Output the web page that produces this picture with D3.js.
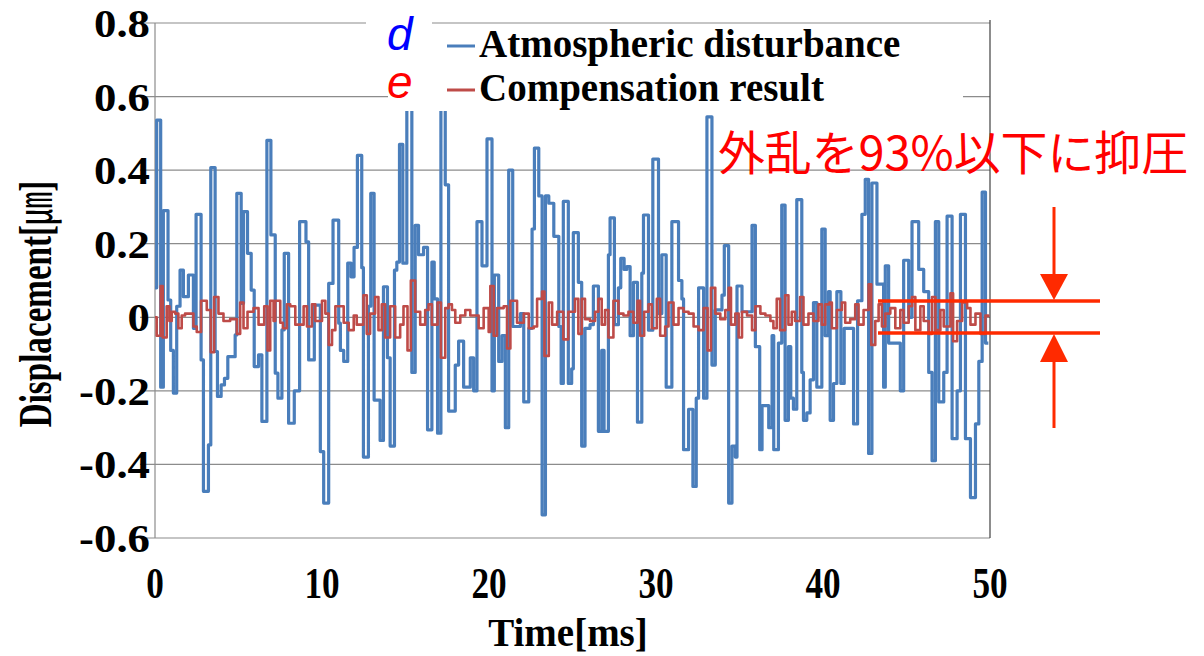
<!DOCTYPE html>
<html>
<head>
<meta charset="utf-8">
<script src="https://cdn.jsdelivr.net/npm/d3@7"></script>
<style>
  body { margin: 0; background: #fff; }
  svg { display: block; }
</style>
</head>
<body>
<div id="chart"></div>
<script>
// step start times (ms) and held values (um) of the disturbance d
var dTime = [0.0,0.1,0.34,0.5,0.78,0.94,1.1,1.3,1.5,1.7,2.0,2.3,2.46,2.76,2.9,3.2,3.34,3.6,3.74,3.96,
  4.16,4.36,4.8,4.9,5.16,5.3,5.54,5.76,5.94,6.2,6.4,6.7,6.94,7.2,7.36,7.6,7.74,8.0,8.34,8.66,
  9.04,9.2,9.54,9.9,10.1,10.4,10.66,11.0,11.1,11.3,11.54,11.74,11.92,12.12,12.38,12.48,12.78,12.92,13.12,13.48,
  13.68,13.92,14.08,14.34,14.48,14.64,14.84,15.08,15.38,15.58,15.78,16.08,16.32,16.58,16.72,16.92,17.12,17.38,17.58,17.98,
  18.18,18.48,18.88,19.08,19.28,19.58,19.88,20.18,20.32,20.58,20.78,20.98,21.18,21.42,21.88,22.08,22.38,22.58,22.72,22.98,
  23.18,23.38,23.58,23.88,24.18,24.32,24.45,24.75,24.95,25.05,25.35,25.55,25.75,26.05,26.25,26.55,26.75,26.89,27.15,27.25,
  27.51,27.75,27.89,28.09,28.25,28.45,28.65,28.89,29.15,29.25,29.55,29.81,30.15,30.35,30.61,30.95,31.35,31.55,31.65,31.95,
  32.21,32.41,32.55,32.85,33.05,33.35,33.55,33.95,34.09,34.35,34.55,34.75,34.85,35.15,35.75,35.95,36.21,36.35,36.75,36.95,
  37.05,37.33,37.53,37.73,37.93,38.07,38.23,38.43,38.73,38.83,39.03,39.23,39.43,39.63,39.93,40.13,40.33,40.43,40.63,40.83,
  41.07,41.27,41.83,42.07,42.33,42.53,42.73,42.93,43.23,43.63,43.73,43.93,44.63,44.83,45.13,45.33,45.73,46.03,46.33,46.53,
  46.73,46.93,47.23,47.43,47.73,48.03,48.23,48.53,48.83,49.13,49.33,49.53,49.73,49.9];
var dValue = [0.08,0.536,-0.19,0.29,0.047,-0.09,-0.206,0.03,0.128,0.056,0.115,-0.03,0.28,-0.116,-0.473,-0.347,0.407,-0.093,-0.215,-0.184,
  -0.166,-0.107,-0.048,0.337,0.038,0.287,0.174,0.074,-0.134,-0.102,-0.283,0.481,0.224,-0.152,-0.22,-0.034,0.174,-0.288,-0.2,0.26,
  0.205,-0.116,0.033,-0.365,-0.505,0.092,0.264,-0.016,-0.09,-0.12,0.147,0.11,0.19,0.44,0.135,-0.38,0.03,0.337,-0.225,-0.335,
  0.083,-0.11,-0.35,0.128,0.15,0.47,0.147,0.62,-0.15,0.25,0.17,0.19,-0.306,0.15,0.05,-0.315,0.62,0.36,-0.255,-0.13,
  -0.065,-0.19,-0.11,-0.2,0.26,0.14,0.485,-0.2,0.115,-0.12,-0.05,-0.3,0.4,-0.025,0.01,-0.23,-0.03,0.24,0.46,0.33,
  -0.537,0.33,0.31,0.22,-0.025,-0.18,0.315,-0.18,-0.14,0.23,0.095,-0.35,-0.03,-0.02,0.085,-0.31,-0.09,-0.31,0.17,0.27,
  -0.02,0.08,0.16,0.13,0.138,-0.05,0.095,-0.285,0.12,0.278,-0.035,0.43,0.01,0.17,-0.19,0.26,0.1,0.05,-0.36,-0.25,
  -0.46,-0.22,0.08,-0.22,0.545,-0.13,0.02,0.06,0.195,-0.505,-0.35,-0.38,0.085,0.015,0.25,-0.08,-0.36,-0.24,-0.3,-0.05,
  -0.36,-0.07,0.305,-0.28,-0.08,-0.22,-0.25,0.32,-0.15,-0.28,-0.26,-0.17,0.04,-0.19,0.24,-0.05,0.07,-0.28,-0.18,0.07,
  -0.18,-0.03,-0.29,0.045,0.28,0.375,-0.37,0.365,0.09,-0.19,0.14,-0.07,-0.2,0.155,0.0,0.26,0.13,0.07,-0.15,-0.39,
  0.26,-0.23,-0.15,0.275,-0.33,-0.2,0.28,-0.33,-0.49,-0.29,-0.12,0.34,-0.07,-0.07];

// compensation result e
var eTime = [0.0,0.1,0.34,0.46,0.7,0.86,1.0,1.2,1.4,1.6,1.8,2.3,2.5,2.76,2.96,3.1,3.34,3.54,3.8,4.1,
  4.5,4.9,5.1,5.3,5.54,5.9,6.2,6.54,6.74,6.9,7.1,7.2,7.5,7.66,7.9,8.1,8.4,8.66,8.9,9.1,
  9.4,9.6,10.0,10.2,10.4,10.6,10.8,11.0,11.3,11.6,11.9,12.08,12.48,12.68,12.88,13.18,13.38,13.58,13.78,14.08,
  14.38,14.68,14.88,15.12,15.32,15.58,15.88,16.18,16.38,16.58,16.92,17.12,17.38,17.58,17.78,17.98,18.28,18.58,18.88,19.18,
  19.38,19.68,19.98,20.08,20.28,20.48,20.88,21.08,21.28,21.48,21.68,22.08,22.38,22.68,22.88,23.18,23.32,23.58,23.78,24.08,
  24.45,24.75,25.15,25.35,25.55,25.75,26.05,26.35,26.55,26.75,26.95,27.15,27.45,27.75,28.05,28.35,28.65,28.89,29.05,29.29,
  29.55,29.75,30.05,30.25,30.55,30.75,31.05,31.35,31.65,31.95,32.25,32.55,32.85,33.09,33.29,33.55,33.85,34.15,34.35,34.49,
  34.75,34.95,35.15,35.45,35.75,35.95,36.25,36.55,36.85,37.03,37.23,37.43,37.73,37.93,38.13,38.33,38.63,38.83,39.13,39.43,
  39.73,39.93,40.13,40.39,40.53,40.83,41.13,41.33,41.63,41.93,42.13,42.43,42.73,42.89,43.13,43.33,43.53,43.73,44.03,44.33,
  44.63,44.83,45.13,45.33,45.53,45.83,46.03,46.33,46.53,46.73,47.03,47.23,47.63,47.79,48.03,48.33,48.63,48.83,49.13,49.43,
  49.73,49.9];
var eValue = [0.0,-0.05,0.085,-0.055,0.03,-0.01,0.015,0.01,-0.03,0.005,0.01,-0.025,-0.04,0.045,0.045,0.02,-0.095,0.055,0.01,-0.01,
  -0.005,-0.045,0.04,-0.03,0.015,0.025,-0.02,0.03,-0.09,0.045,-0.01,0.045,-0.015,-0.03,0.035,0.03,-0.02,-0.02,0.03,-0.025,
  0.035,-0.01,0.045,0.01,-0.075,-0.035,0.03,0.03,-0.015,-0.035,0.005,-0.02,0.06,-0.045,0.01,0.055,-0.035,0.035,-0.055,0.03,
  -0.055,-0.02,0.03,-0.09,0.1,0.015,-0.02,0.02,0.035,-0.02,0.04,-0.11,0.025,0.035,0.02,-0.015,0.005,0.02,0.005,0.005,
  -0.03,0.025,-0.04,0.085,-0.05,0.025,0.03,-0.085,0.045,0.045,-0.015,0.01,-0.03,-0.025,0.05,0.07,-0.105,0.04,-0.02,0.015,
  -0.06,0.015,0.05,-0.045,0.05,-0.005,-0.01,0.015,0.05,-0.02,0.02,-0.055,0.045,0.01,0.005,0.015,-0.015,0.045,-0.05,0.015,
  0.035,-0.03,0.05,-0.05,-0.025,0.04,-0.02,0.025,0.015,0.01,-0.025,-0.035,0.025,-0.09,0.08,0.01,-0.005,0.02,0.08,-0.02,
  0.01,-0.055,0.015,0.005,-0.035,0.03,0.01,0.005,-0.01,-0.03,0.05,-0.035,0.06,-0.02,0.015,-0.01,0.055,-0.02,0.01,-0.01,
  0.035,-0.02,0.035,0.04,-0.03,0.02,0.04,-0.015,-0.005,0.035,-0.02,0.02,0.09,-0.075,-0.01,0.035,-0.025,0.01,0.025,-0.03,
  0.02,-0.015,0.03,0.055,-0.035,0.03,-0.01,-0.045,0.055,-0.035,0.02,-0.025,0.065,-0.065,-0.01,0.04,0.025,-0.02,0.01,-0.045,
  0.005,0.0];

var yTicks = [-0.6, -0.4, -0.2, 0, 0.2, 0.4, 0.6, 0.8];
var xTicks = [0, 10, 20, 30, 40, 50];
var legendNames = ["Atmospheric disturbance", "Compensation result"];
var legendSymbols = ["d", "e"];
var note = "外乱を93%以下に抑圧";

var W = 1204, H = 656;
var plotL = 155, plotR = 990, plotT = 23, plotB = 538;
var serif = "'Liberation Serif', 'Times New Roman', serif";

var svg = d3.select("#chart").append("svg")
  .attr("width", W)
  .attr("height", H);

var x = d3.scaleLinear().domain([0, 50]).range([plotL, plotR]);
var y = d3.scaleLinear().domain([-0.6, 0.8]).range([plotB, plotT]);

// gridlines + left ticks
svg.append("g")
  .selectAll("line")
  .data(yTicks)
  .join("line")
  .attr("x1", plotL - 15)
  .attr("x2", plotR)
  .attr("y1", function(d){ return y(d) })
  .attr("y2", function(d){ return y(d) })
  .attr("stroke", "#8c8c8c")
  .attr("stroke-width", 1.2)

// left axis
svg.append("line")
  .attr("x1", plotL).attr("x2", plotL)
  .attr("y1", plotT).attr("y2", plotB)
  .attr("stroke", "#8c8c8c")
  .attr("stroke-width", 1.2)

// right border
svg.append("line")
  .attr("x1", plotR).attr("x2", plotR)
  .attr("y1", plotT - 3).attr("y2", plotB)
  .attr("stroke", "#404040")
  .attr("stroke-width", 1.2)

// tick labels (plain hyphen for negatives, like the original)
svg.append("g")
  .selectAll("text")
  .data(yTicks)
  .join("text")
  .attr("transform", function(d){ return "translate(150," + (y(d) + 14) + ") scale(1.12,1)" })
  .attr("text-anchor", "end")
  .attr("font-family", serif)
  .attr("font-weight", "bold")
  .attr("font-size", 40)
  .text(function(d){ return String(d) })

svg.append("g")
  .selectAll("text")
  .data(xTicks)
  .join("text")
  .attr("transform", function(d){ return "translate(" + x(d) + ",598) scale(0.8,1)" })
  .attr("text-anchor", "middle")
  .attr("font-family", serif)
  .attr("font-weight", "bold")
  .attr("font-size", 44)
  .text(function(d){ return d })

// axis titles
svg.append("text")
  .attr("x", 568)
  .attr("y", 646)
  .attr("text-anchor", "middle")
  .attr("font-family", serif)
  .attr("font-weight", "bold")
  .attr("font-size", 39)
  .text("Time[ms]")

var yTitle = svg.append("text")
  .attr("transform", "translate(51,304) rotate(-90) scale(0.72,1)")
  .attr("text-anchor", "middle")
  .attr("font-family", serif)
  .attr("font-weight", "bold")
  .attr("font-size", 46)
yTitle.append("tspan").text("Displacement[")
yTitle.append("tspan").attr("font-family", "'Noto Sans CJK JP'").attr("font-weight", "normal").text("㎛")
yTitle.append("tspan").text("]")

// series
var dPts = dTime.map(function(t, i){ return [t, dValue[i]] })
var ePts = eTime.map(function(t, i){ return [t, eValue[i]] })

var stepLine = d3.line()
  .x(function(p){ return x(p[0]) })
  .y(function(p){ return y(p[1]) })
  .curve(d3.curveStepAfter)

svg.append("path")
  .attr("d", stepLine(dPts))
  .attr("fill", "none")
  .attr("stroke", "#4a7ebb")
  .attr("stroke-width", 3.2)
  .attr("stroke-linejoin", "round")

svg.append("path")
  .attr("d", stepLine(ePts))
  .attr("fill", "none")
  .attr("stroke", "#be4b48")
  .attr("stroke-width", 2.6)
  .attr("stroke-linejoin", "round")

// white boxes of the legend and the d / e labels
svg.append("rect").attr("x", 366).attr("y", 8).attr("width", 66).attr("height", 52).attr("fill", "#fff")
svg.append("rect").attr("x", 388).attr("y", 60).attr("width", 44).attr("height", 51).attr("fill", "#fff")
svg.append("rect").attr("x", 432).attr("y", 28).attr("width", 531).attr("height", 83).attr("fill", "#fff")

var legendColors = ["#4a7ebb", "#be4b48"];
var symColors = ["#0000ff", "#ff0000"];
legendNames.forEach(function(name, i){
  var ly = 46 + i * 44;
  svg.append("line")
    .attr("x1", 447).attr("x2", 475)
    .attr("y1", ly).attr("y2", ly)
    .attr("stroke", legendColors[i])
    .attr("stroke-width", 3)
  svg.append("text")
    .attr("x", 479)
    .attr("y", ly + 11)
    .attr("font-family", serif)
    .attr("font-weight", "bold")
    .attr("font-size", 39)
    .text(name)
  svg.append("text")
    .attr("x", 387)
    .attr("y", ly + 4 + i * 4)
    .attr("font-family", "'Liberation Sans', Arial, sans-serif")
    .attr("font-style", "italic")
    .attr("font-size", 46)
    .attr("fill", symColors[i])
    .text(legendSymbols[i])
})

// annotation
var red = "#ff2a00";
svg.append("text")
  .attr("x", 718)
  .attr("y", 170)
  .attr("font-family", "'Noto Sans CJK JP', sans-serif")
  .attr("font-size", 47)
  .attr("fill", "#ff0000")
  .attr("textLength", 470)
  .attr("lengthAdjust", "spacingAndGlyphs")
  .text(note)

var bandTop = 301, bandBottom = 333, ax = 1054;
[bandTop, bandBottom].forEach(function(yy){
  svg.append("line")
    .attr("x1", 878).attr("x2", 1100)
    .attr("y1", yy).attr("y2", yy)
    .attr("stroke", red).attr("stroke-width", 3.5)
})
svg.append("line").attr("x1", ax).attr("x2", ax).attr("y1", 207).attr("y2", 276).attr("stroke", red).attr("stroke-width", 3)
svg.append("path").attr("d", "M" + (ax - 14) + ",274L" + (ax + 14) + ",274L" + ax + "," + (bandTop - 1) + "Z").attr("fill", red)
svg.append("line").attr("x1", ax).attr("x2", ax).attr("y1", 360).attr("y2", 428).attr("stroke", red).attr("stroke-width", 3)
svg.append("path").attr("d", "M" + (ax - 14) + ",362L" + (ax + 14) + ",362L" + ax + "," + (bandBottom + 1) + "Z").attr("fill", red)
</script>
</body>
</html>
